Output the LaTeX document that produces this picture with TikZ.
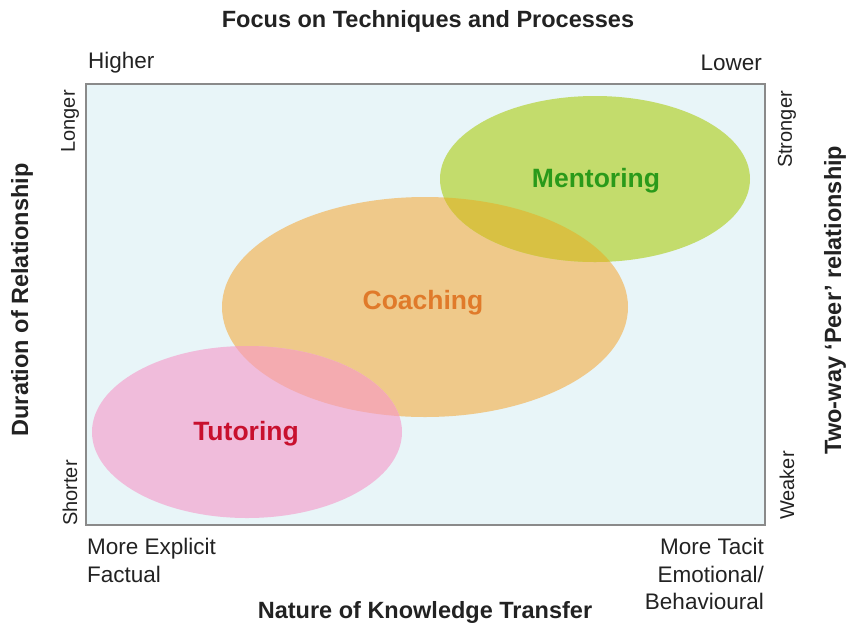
\documentclass[tikz,border=0pt]{standalone}
\usepackage{fontspec}
\setmainfont{Liberation Sans}
\definecolor{bgblue}{HTML}{E8F5F8}
\definecolor{framegray}{HTML}{8A8A8A}
\definecolor{mentfill}{HTML}{C3DC6C}
\definecolor{coachfill}{HTML}{EFC98A}
\definecolor{tutfill}{HTML}{F0BCDB}
\definecolor{mcover}{HTML}{D8C143}
\definecolor{tcover}{HTML}{F4ABB0}
\definecolor{menttext}{HTML}{2A9A1A}
\definecolor{coachtext}{HTML}{E07A2A}
\definecolor{tuttext}{HTML}{C8102E}
\definecolor{labtext}{HTML}{222222}
\tikzset{
  axistitle/.style={font=\bfseries\fontsize{23.5}{28}\selectfont, text=labtext, inner sep=0pt},
  endlabel/.style={font=\fontsize{22.5}{27.5}\selectfont, text=labtext, inner sep=0pt},
  sidelabel/.style={font=\fontsize{20}{24}\selectfont, text=labtext, inner sep=0pt, rotate=90},
  zonelabel/.style={font=\bfseries\fontsize{26.5}{30}\selectfont, inner sep=0pt},
}
\begin{document}
\begin{tikzpicture}[x=1pt,y=-1pt]
\useasboundingbox (0,0) rectangle (848,625);
% plot area
\fill[bgblue] (86,84) rectangle (765,525);
% ellipses
\fill[coachfill] (425,307) ellipse [x radius=203pt, y radius=110pt];
\fill[mentfill] (595,179) ellipse [x radius=155pt, y radius=83pt];
\fill[tutfill] (247,432) ellipse [x radius=155pt, y radius=86pt];
\begin{scope}
  \clip (425,307) ellipse [x radius=203pt, y radius=110pt];
  \fill[mcover] (595,179) ellipse [x radius=155pt, y radius=83pt];
  \fill[tcover] (247,432) ellipse [x radius=155pt, y radius=86pt];
\end{scope}
\draw[framegray, line width=2pt] (86,84) rectangle (765,525);
% zone labels
\node[zonelabel, text=menttext] (ment) at (596,181) {Mentoring};
\node[zonelabel, text=coachtext] (coach) at (423,303) {Coaching};
\node[zonelabel, text=tuttext] (tut) at (246,434) {Tutoring};
% top
\node[axistitle] (top) at (428,21) {Focus on Techniques and Processes};
\node[endlabel, anchor=west] (higher) at (88,63) {Higher};
\node[endlabel, anchor=east] (lower) at (762,63) {Lower};
% left
\node[axistitle, rotate=90] (left) at (22,300) {Duration of Relationship};
\node[sidelabel, anchor=east] (longer) at (70,90) {Longer};
\node[sidelabel, anchor=west] (shorter) at (70,526) {Shorter};
% right
\node[axistitle, rotate=90] (right) at (835,300) {Two-way ‘Peer’ relationship};
\node[sidelabel, anchor=east] (stronger) at (787,91) {Stronger};
\node[sidelabel, anchor=west] (weaker) at (787,520) {Weaker};
% bottom
\node[endlabel, anchor=north west, align=left] (explicit) at (87,538) {More Explicit\\Factual};
\node[endlabel, anchor=north east, align=right] (tacit) at (764,538) {More Tacit\\Emotional/\\Behavioural};
\node[axistitle] (bottom) at (425,612) {Nature of Knowledge Transfer};
\end{tikzpicture}
\end{document}
